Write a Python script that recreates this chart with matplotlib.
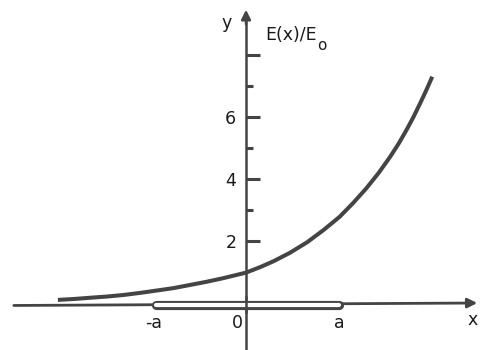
import matplotlib.pyplot as plt

# field profile E(x)/E0 along x, x in units of a
x_over_a = [-1.97, -1.8, -1.63, -1.45, -1.28, -1.1, -0.94, -0.76, -0.59,
            -0.42, -0.24, -0.12, 0.0, 0.15, 0.29, 0.46, 0.64, 0.81, 0.98,
            1.12, 1.26, 1.39, 1.51, 1.6, 1.68, 1.75, 1.82, 1.89, 1.95]
e_ratio = [0.10, 0.13, 0.17, 0.21, 0.26, 0.33, 0.40, 0.48, 0.58,
           0.68, 0.80, 0.89, 0.98, 1.16, 1.35, 1.62, 1.96, 2.35, 2.78,
           3.22, 3.70, 4.20, 4.72, 5.15, 5.58, 5.98, 6.42, 6.88, 7.30]

major_ticks = [2, 4, 6, 8]
major_labels = ['2', '4', '6', '']
minor_ticks = [3, 5, 7]

rod_ends = [-0.94, 0.97]
x_labels = ['-a', '0', 'a']
x_label_pos = [-0.97, -0.09, 0.98]

ink = '#444444'
text_color = '#1a1a1a'
plt.rcParams['font.family'] = ['DejaVu Sans']

fig = plt.figure(figsize=(4.8, 3.5), dpi=100)
ax = fig.add_axes([0, 0, 1, 1])
ax.set_xlim(-2.576, 2.45)
ax.set_ylim(-1.516, 9.774)

# y axis through x = 0, ticks pointing right
for side in ['right', 'top', 'bottom']:
    ax.spines[side].set_visible(False)
ax.spines['left'].set_position(('data', 0))
ax.spines['left'].set_bounds(-1.52, 9.2)
ax.spines['left'].set_color(ink)
ax.spines['left'].set_linewidth(1.8)
ax.set_xticks([])
ax.set_yticks(major_ticks)
ax.set_yticklabels(major_labels)
ax.set_yticks(minor_ticks, minor=True)
ax.tick_params(axis='y', which='major', direction='in', length=10, width=2.2,
               color=ink, pad=7, labelsize=12.5, labelcolor=text_color)
ax.tick_params(axis='y', which='minor', direction='in', length=5, width=2.2,
               color=ink)
ax.annotate('', xy=(0, 9.55), xytext=(0, 8.9),
            arrowprops=dict(arrowstyle='-|>', color=ink, lw=1.8,
                            mutation_scale=14))

# x axis with arrow
ax.annotate('', xy=(2.45, 0.0), xytext=(-2.46, -0.08),
            arrowprops=dict(arrowstyle='-|>', color=ink, lw=2.0,
                            mutation_scale=14))

# rod between -a and a (hollow, drawn over the x axis)
ax.plot(rod_ends, [-0.06, -0.06], color=ink, lw=6.6,
        solid_capstyle='round', zorder=4)
ax.plot(rod_ends, [-0.06, -0.06], color='white', lw=3.0,
        solid_capstyle='round', zorder=5)
ax.plot([0, 0], [-0.3, 0.2], color=ink, lw=1.8, zorder=6)

# field curve
ax.plot(x_over_a, e_ratio, color=ink, lw=2.9, solid_capstyle='butt',
        solid_joinstyle='round', zorder=6)

for xl, pos in zip(x_labels, x_label_pos):
    ax.text(pos, -0.63, xl, ha='center', va='center', fontsize=12.5,
            color=text_color)
ax.text(2.37, -0.55, 'x', ha='center', va='center', fontsize=12.5,
        color=text_color)
ax.text(-0.2, 9.03, 'y', ha='center', va='center', fontsize=12.5,
        color=text_color)
ax.text(0.199, 8.48, 'E(x)/E', ha='left', va='baseline', fontsize=12.5,
        color=text_color)
ax.text(0.74, 8.15, 'o', ha='left', va='baseline', fontsize=11,
        color=text_color)

fig.savefig('out.png', dpi=100)
